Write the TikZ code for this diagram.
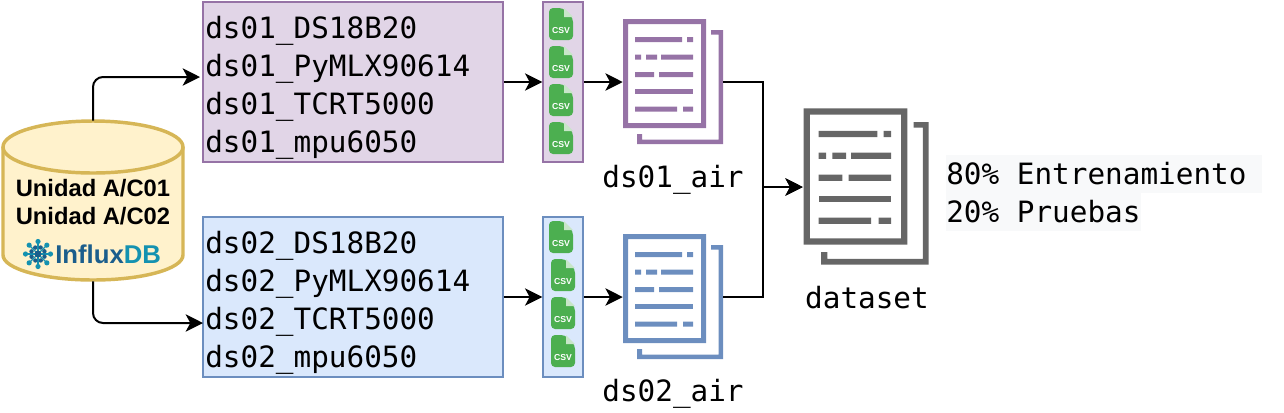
\documentclass[tikz,border=0pt]{standalone}
\usepackage{fontspec}
\setmainfont{Liberation Sans}
\setmonofont{DejaVu Sans Mono}
\usetikzlibrary{arrows.meta}

\definecolor{violetfill}{HTML}{E1D5E7}
\definecolor{violetline}{HTML}{9673A6}
\definecolor{bluefill}{HTML}{DAE8FC}
\definecolor{blueline}{HTML}{6C8EBF}
\definecolor{dbfill}{HTML}{FFF2CC}
\definecolor{dbline}{HTML}{D6B656}
\definecolor{csvgreen}{HTML}{4CAF50}
\definecolor{csvfold}{HTML}{C8E6C9}
\definecolor{docgrey}{HTML}{666666}
\definecolor{influxdark}{HTML}{1B5E8C}
\definecolor{influxteal}{HTML}{1492B0}
\definecolor{splitfill}{HTML}{F8F9FA}

\tikzset{
  flow/.style={line width=1.5pt,-{Stealth[length=13pt,width=13pt,inset=3.5pt]}},
  sensorbox/.style={draw,line width=1pt,minimum width=225pt,minimum height=120pt,inner sep=0pt},
  sensorlist/.style={inner sep=0pt,text width=223pt,align=left,font=\ttfamily\fontsize{22}{28.5}\selectfont},
  csvstrip/.style={draw,line width=1pt,minimum width=30pt,minimum height=120pt,inner sep=0pt},
  docarea/.style={minimum width=75pt,minimum height=93.75pt,inner sep=0pt},
  dbarea/.style={minimum width=135pt,minimum height=120pt,inner sep=0pt},
  dbshape/.style={draw=dbline,fill=dbfill,line width=2.6pt},
  monolabel/.style={font=\ttfamily\fontsize{22}{28.5}\selectfont,inner sep=0pt},
  splitline/.style={monolabel,fill=splitfill,minimum height=28.5pt,anchor=west,align=left},
  csvicon/.pic={
    \fill[csvgreen,rounded corners=3pt] (-12,-16) -- (-12,16) -- (12,16) -- (12,-6) -- (2,-16) -- cycle;
    \fill[csvfold] (3,-16) -- (12,-7) -- (3,-7) -- cycle;
    \node[text=white,inner sep=0pt,font=\bfseries\fontsize{6.5}{6.5}\selectfont] at (0,7) {CSV};
  },
  docicon/.pic={
    \fill[#1,even odd rule] (-50,-63) rectangle (33,46) (-45,-58) rectangle (28,41);
    \fill[#1] (38,-52) -- (50,-52) -- (50,62) -- (-36,62) -- (-36,52) -- (-31,52)
      -- (-31,57.5) -- (45.5,57.5) -- (45.5,-47.5) -- (38,-47.5) -- cycle;
    \fill[#1] (-38,-45) rectangle (9,-40) (14,-45) rectangle (20,-40);
    \fill[#1] (-38,-27.5) rectangle (-32,-22.5) (-27,-27.5) rectangle (-16,-22.5) (-12,-27.5) rectangle (20,-22.5);
    \fill[#1] (-38,-10) rectangle (-19,-5) (-14,-10) rectangle (20,-5);
    \fill[#1] (-38,7) rectangle (20,12);
    \fill[#1] (-38,24.5) rectangle (4,29.5) (10,24.5) rectangle (20,29.5);
  }
}

\begin{document}
\begin{tikzpicture}[x=0.75pt,y=-0.75pt]
    \useasboundingbox (0,0) rectangle (1284,412);

    % Database
    \node[dbarea] (db) at (93,201) {};
    \draw[dbshape] (3,147) -- (3,255) arc[start angle=180,end angle=0,x radius=90,y radius=25] -- (183,147);
    \draw[dbshape] (93,147) ellipse [x radius=90,y radius=26];
    \node[inner sep=0pt,align=center,font=\bfseries\fontsize{17.8}{21}\selectfont] (units) at (93,202)
      {Unidad A/C01\\Unidad A/C02};
    \node[inner sep=0pt,anchor=west,font=\bfseries\fontsize{19.3}{19.3}\selectfont] (influx) at (55,254)
      {\textcolor{influxdark}{Influx}\textcolor{influxteal}{DB}};
    \foreach \ang in {0,45,...,315} {
        \draw[influxteal,line width=1pt] (38,254) -- ++(\ang:12);
        \fill[influxteal] (38,254) ++(\ang:12.5) circle (2.6);
        \fill[influxdark] (38,254) ++(\ang+22:7) circle (2.2);
    }
    \fill[influxdark] (38,254) circle (3.5);

    % Sensor tables
    \node[sensorbox,draw=violetline,fill=violetfill] (box1) at (353,82) {};
    \node[sensorbox,draw=blueline,fill=bluefill] (box2) at (353,297) {};
    \node[sensorlist] (list1) at (354,88)
      {ds01\_DS18B20\\ds01\_PyMLX90614\\ds01\_TCRT5000\\ds01\_mpu6050};
    \node[sensorlist] (list2) at (354,303)
      {ds02\_DS18B20\\ds02\_PyMLX90614\\ds02\_TCRT5000\\ds02\_mpu6050};

    % CSV strips
    \node[csvstrip,draw=violetline,fill=violetfill] (strip1) at (563,82) {};
    \node[csvstrip,draw=blueline,fill=bluefill] (strip2) at (563,297) {};
    \foreach \cy in {24,62,100,138} {
        \pic at (561,\cy) {csvicon};
    }
    \pic at (561,237) {csvicon};
    \foreach \cy in {275,313,351} {
        \pic at (563,\cy) {csvicon};
    }

    % Documents
    \node[docarea] (air1) at (673,82) {};
    \node[docarea] (air2) at (673,297) {};
    \node[docarea,minimum width=94.5pt,minimum height=117pt] (merged) at (866,187) {};
    \pic at (air1) {docicon=violetline};
    \pic at (air2) {docicon=blueline};
    \pic[scale=1.25] at (merged) {docicon=docgrey};

    \node[monolabel] (air1label) at (673,180) {ds01\_air};
    \node[monolabel] (air2label) at (673,394) {ds02\_air};
    \node[monolabel] (mergedlabel) at (867,298) {dataset};

    % Split
    \node[splitline,text width=237pt] (train) at (946,174) {80\%\hspace{13.25pt}Entrenamiento};
    \node[splitline,text width=146pt] (test) at (946,212) {20\%\hspace{13.25pt}Pruebas};

    % Arrows
    \coordinate (in1) at (200,77);
    \coordinate (in2) at (203,323);
    \coordinate (join) at (763,187);
    \draw[flow,rounded corners=7.5pt] (db.north) |- (in1);
    \draw[flow,rounded corners=7.5pt] (db.south) |- (in2);
    \draw[flow] (box1) -- (strip1);
    \draw[flow] (box2) -- (strip2);
    \draw[flow] (strip1) -- (air1);
    \draw[flow] (strip2) -- (air2);
    \draw[flow] (air1.east) -| (join) -- (merged.west);
    \draw[flow] (air2.east) -| (join) -- (merged.west);
\end{tikzpicture}
\end{document}
